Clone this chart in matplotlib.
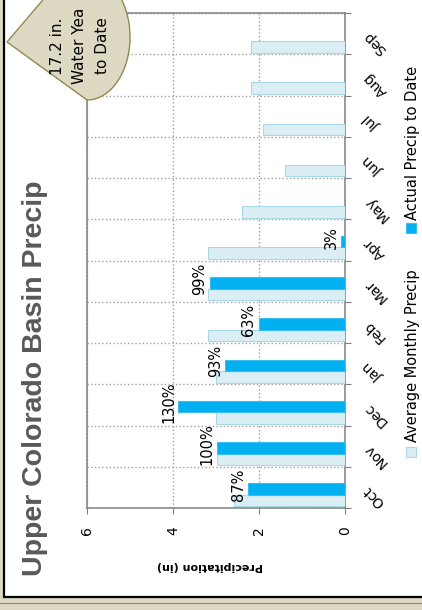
import matplotlib
matplotlib.use('Agg')
import matplotlib.pyplot as plt
from matplotlib.patches import Rectangle, PathPatch
from matplotlib.path import Path
from matplotlib.lines import Line2D
import numpy as np

plt.rcParams['font.family'] = ['DejaVu Sans']

months = ['Oct', 'Nov', 'Dec', 'Jan', 'Feb', 'Mar', 'Apr', 'May', 'Jun', 'Jul', 'Aug', 'Sep']
avg_precip = [2.59, 2.98, 2.99, 2.99, 3.19, 3.19, 3.19, 2.40, 1.40, 1.90, 2.19, 2.19]
actual_precip = [2.26, 2.98, 3.88, 2.78, 2.01, 3.15, 0.10]
pct_labels = ['87%', '100%', '130%', '93%', '63%', '99%', '3%']
value_ticks = [0, 2, 4, 6]
callout_text = '17.2 in.\nWater Yea\nto Date'

# the whole chart is drawn turned a quarter turn (text reads upward)
W, H = 422, 610
def fx(x):
    return x / W
def fy(y):
    return 1 - y / H

fig = plt.figure(figsize=(4.22, 6.10), dpi=100, facecolor='#ddd9c3')

# white panel with dark border
fig.add_artist(Rectangle((fx(4), fy(597)), 1.2, 1.2, transform=fig.transFigure,
                         facecolor='white', edgecolor='black', linewidth=1.6, zorder=-5))
fig.add_artist(Line2D([0, 1], [fy(603), fy(603)], transform=fig.transFigure,
                      color='#8c8672', linewidth=0.8, zorder=-5))

ax = fig.add_axes([fx(87), fy(508), fx(345) - fx(87), fy(13) - fy(508)])
ax.set_facecolor('white')

y = np.arange(len(months))
ax.barh(y - 0.32, avg_precip, height=0.28, color='#dbeef4', edgecolor='#a9d8e6',
        linewidth=0.8, zorder=3)
ya = y[:len(actual_precip)]
ax.barh(ya - 0.04, actual_precip, height=0.28, color='#00b0f0', edgecolor='#3cbdf0',
        linewidth=0.8, zorder=3)

for i, (v, t) in enumerate(zip(actual_precip, pct_labels)):
    ax.annotate(t, xy=(v, i + 0.06), xytext=(-1.5, 0), textcoords='offset points',
                rotation=90, ha='right', va='center', fontsize=10.5)

ax.set_xlim(6, 0)
ax.set_ylim(-0.5, 11.5)
ax.set_xticks(value_ticks)
ax.set_xticklabels([str(v) for v in value_ticks], rotation=90)
ax.tick_params(axis='x', length=4, color='#808080', pad=9, labelsize=10)

ax.set_yticks(np.arange(-0.5, 12, 1))
ax.set_yticklabels([])
ax.set_yticks(y, months, minor=True)
ax.yaxis.tick_right()
ax.tick_params(axis='y', which='major', length=4, color='#808080')
ax.tick_params(axis='y', which='minor', length=0, pad=15, labelsize=10)
for lab in ax.get_yticklabels(minor=True):
    lab.set_rotation(135)
    lab.set_ha('right')
    lab.set_va('center')
    lab.set_rotation_mode('anchor')

ax.grid(True, which='major', linestyle=':', color='#a0a0a0', linewidth=1)
for s in ax.spines.values():
    s.set_color('#808080')
    s.set_linewidth(1.1)

ax.set_xlabel('Precipitation (in)', rotation=180, fontweight='bold', fontsize=8, va='center')
ax.xaxis.set_label_coords(0.477, -0.117)

fig.text(fx(35), fy(378), 'Upper Colorado Basin Precip', rotation=90, ha='center', va='center',
         fontsize=20.5, fontweight='bold', color='#595959', family='Liberation Sans')

# legend, drawn by hand so it can be turned
fig.add_artist(Rectangle((fx(406), fy(457)), fx(10), 10 / H, transform=fig.transFigure,
                         facecolor='#dbeef4', edgecolor='#a9d8e6', linewidth=0.8))
fig.text(fx(412), fy(442), 'Average Monthly Precip', rotation=90, ha='center', va='bottom',
         fontsize=10.5)
fig.add_artist(Rectangle((fx(406), fy(233)), fx(10), 10 / H, transform=fig.transFigure,
                         facecolor='#00b0f0', edgecolor='#3cbdf0', linewidth=0.8))
fig.text(fx(412), fy(220), 'Actual Precip to Date', rotation=90, ha='center', va='bottom',
         fontsize=10.5)

# callout bubble
k = 0.5523
pts = [(7, 42), (87, 100),
       (87 + 43 * k, 100), (130, 37 + 63 * k), (130, 37),
       (130, 37 - 63 * k), (87 + 43 * k, -26), (87, -26),
       (65, -26), (7, 42)]
codes = [Path.MOVETO, Path.LINETO,
         Path.CURVE4, Path.CURVE4, Path.CURVE4,
         Path.CURVE4, Path.CURVE4, Path.CURVE4,
         Path.LINETO, Path.CLOSEPOLY]
bubble = Path([(fx(px), fy(py)) for px, py in pts], codes)
fig.add_artist(PathPatch(bubble, transform=fig.transFigure, facecolor='#ddd9c3',
                         edgecolor='#938953', linewidth=1, zorder=4))
fig.text(fx(80), fy(46), callout_text, rotation=90, ha='center', va='center',
         multialignment='center', linespacing=1.6, fontsize=11, zorder=5)

fig.savefig('out.png', dpi=100, facecolor=fig.get_facecolor())
